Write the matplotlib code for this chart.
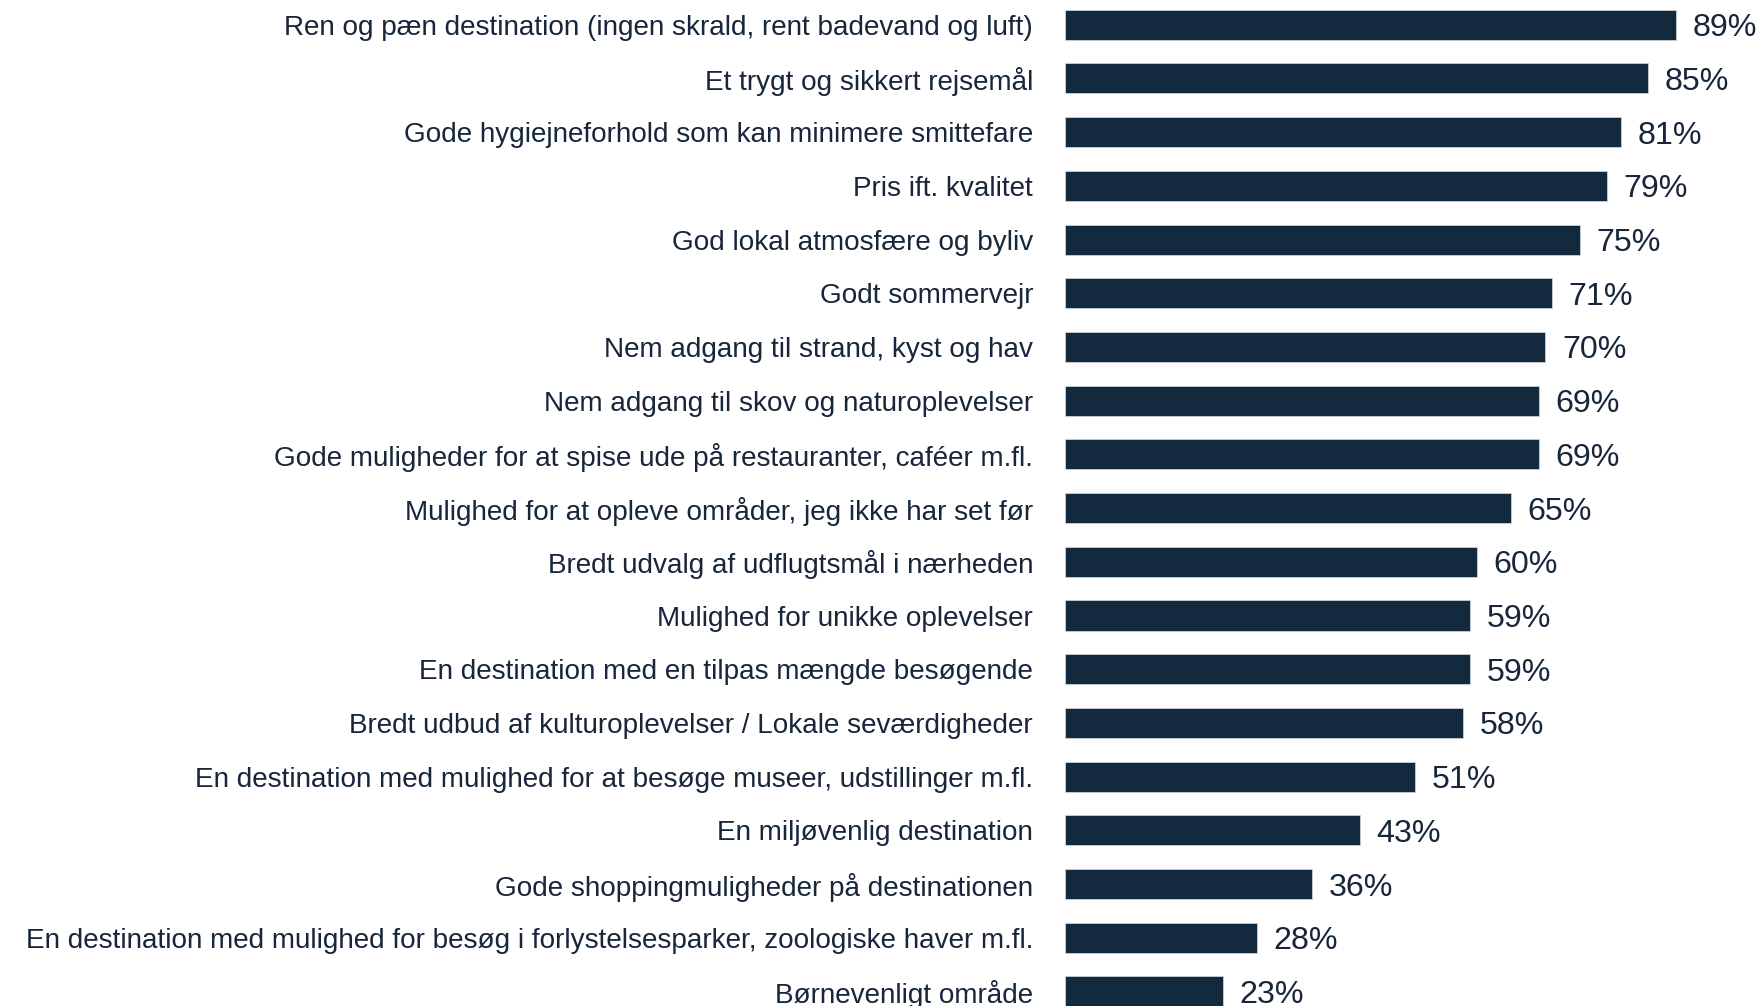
import matplotlib.pyplot as plt

plt.rcParams['font.family'] = ['Liberation Sans', 'DejaVu Sans']

# Data
labels = [
    'Ren og pæn destination (ingen skrald, rent badevand og luft)',
    'Et trygt og sikkert rejsemål',
    'Gode hygiejneforhold som kan minimere smittefare',
    'Pris ift. kvalitet',
    'God lokal atmosfære og byliv',
    'Godt sommervejr',
    'Nem adgang til strand, kyst og hav',
    'Nem adgang til skov og naturoplevelser',
    'Gode muligheder for at spise ude på restauranter, caféer m.fl.',
    'Mulighed for at opleve områder, jeg ikke har set før',
    'Bredt udvalg af udflugtsmål i nærheden',
    'Mulighed for unikke oplevelser',
    'En destination med en tilpas mængde besøgende',
    'Bredt udbud af kulturoplevelser / Lokale seværdigheder',
    'En destination med mulighed for at besøge museer, udstillinger m.fl.',
    'En miljøvenlig destination',
    'Gode shoppingmuligheder på destinationen',
    'En destination med mulighed for besøg i forlystelsesparker, zoologiske haver m.fl.',
    'Børnevenligt område',
]
values = [89, 85, 81, 79, 75, 71, 70, 69, 69, 65, 60, 59, 59, 58, 51, 43, 36, 28, 23]

bar_color = '#13293d'
text_color = '#17263a'

fig = plt.figure(figsize=(17.61, 10.06), dpi=100)
ax = fig.add_axes([0.6048, 0, 0.3952, 1])

y = list(range(len(values)))
ax.barh(y, values, height=0.56, color=bar_color, edgecolor='#c9d0d6', linewidth=0.6)

# value labels next to the bars (last one runs off the bottom like the original)
for yi, v in zip(y, values):
    ax.text(v + 2.4, yi, f'{v}%', va='center_baseline', ha='left', fontsize=23.2, color=text_color)

ax.set_yticks(y)
ax.set_yticklabels(labels, fontsize=20.1, color=text_color)
ax.tick_params(axis='y', length=0, pad=23)
ax.set_xticks([])
ax.set_xlim(0, 101.4)
ax.set_ylim(18.27, -0.46)
for s in ax.spines.values():
    s.set_visible(False)

fig.savefig('out.png', dpi=100)
